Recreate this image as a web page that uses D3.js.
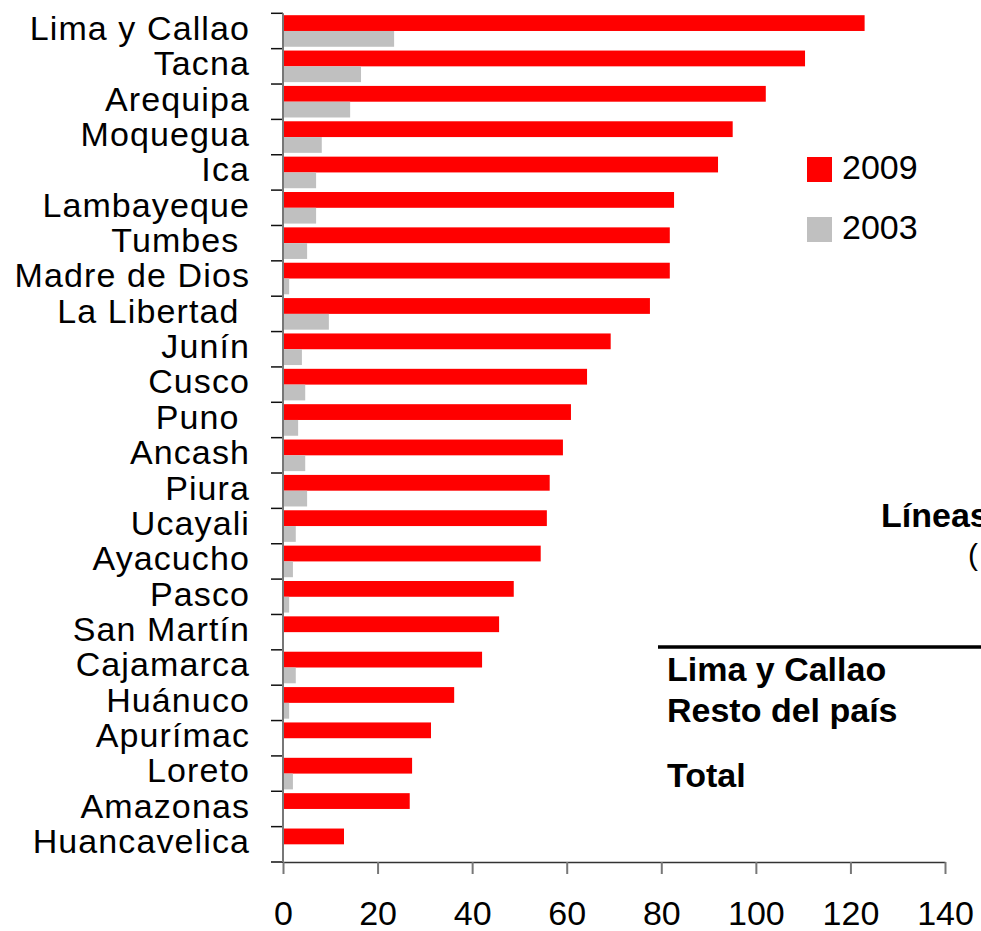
<!DOCTYPE html>
<html>
<head>
<meta charset="utf-8">
<script src="https://cdn.jsdelivr.net/npm/d3@7"></script>
<style>
  html, body { margin: 0; padding: 0; background: #fff; }
  svg { display: block; font-family: "Liberation Sans", Arial, sans-serif; }
</style>
</head>
<body>
<svg id="chart" width="981" height="931"></svg>
<script>
const regions = ["Lima y Callao","Tacna","Arequipa","Moquegua","Ica","Lambayeque","Tumbes ","Madre de Dios","La Libertad ","Junín","Cusco","Puno ","Ancash","Piura","Ucayali","Ayacucho","Pasco","San Martín","Cajamarca","Huánuco","Apurímac","Loreto","Amazonas","Huancavelica"];
const values2009 = [123.0,110.4,102.1,95.1,92.0,82.7,81.8,81.8,77.6,69.3,64.3,60.9,59.2,56.4,55.8,54.5,48.8,45.7,42.1,36.2,31.3,27.3,26.8,12.9];
const values2003 = [23.5,16.5,14.2,8.2,7.0,7.0,5.1,1.3,9.7,4.0,4.7,3.2,4.7,5.1,2.7,2.1,1.3,0,2.7,1.3,0,2.1,0,0];
const seriesNames = ["2009","2003"];
const seriesColors = ["#FF0000","#C0C0C0"];
const xTicks = [0,20,40,60,80,100,120,140];
const tableRows = ["Lima y Callao","Resto del país","Total"];
const tableTitle = ["Líneas","("];

const svg = d3.select("#chart");
const plotLeft = 283, plotRight = 945, plotTop = 13.3, plotBottom = 862;

const x = d3.scaleLinear().domain([0,140]).range([plotLeft,plotRight]);
const y = d3.scaleBand().domain(regions).range([plotTop,plotBottom]).padding(0);
const sub = d3.scaleBand().domain(seriesNames).range([0,y.bandwidth()]).paddingInner(0).paddingOuter(0.12);

const data = regions.map((r,i)=>({region:r, vals:[values2009[i], values2003[i]]}));

// bars
const g = svg.append("g");
data.forEach(d => {
  seriesNames.forEach((s,k) => {
    if (d.vals[k] > 0) {
      g.append("rect")
        .attr("x", x(0))
        .attr("y", y(d.region) + sub(s))
        .attr("width", x(d.vals[k]) - x(0))
        .attr("height", sub.bandwidth())
        .attr("fill", seriesColors[k]);
    }
  });
});

// x axis
const xAxis = d3.axisBottom(x).tickValues(xTicks).tickSize(12).tickSizeOuter(0).tickPadding(27);
const gx = svg.append("g").attr("transform", `translate(0,${plotBottom})`).call(xAxis);
gx.select(".domain").attr("stroke","#333").attr("stroke-width",1.5);
gx.selectAll(".tick line").attr("stroke","#777").attr("stroke-width",2);
gx.selectAll(".tick text").attr("font-size",34).attr("fill","#000").attr("font-family","'Liberation Sans', Arial, sans-serif");

// y axis: labels at band centers
const yAxis = d3.axisLeft(y).tickSize(0).tickPadding(33);
const gy = svg.append("g").attr("transform", `translate(${plotLeft},0)`).call(yAxis);
gy.select(".domain").remove();
gy.selectAll(".tick text")
  .attr("font-size",34).attr("fill","#000")
  .attr("font-family","'Liberation Sans', Arial, sans-serif")
  .attr("letter-spacing","1.1px")
  .attr("dy","0.26em")
  .style("white-space","pre");

// y boundary ticks
const bounds = regions.map(r => y(r)).concat([plotBottom]);
svg.append("g").selectAll("line").data(bounds).join("line")
  .attr("x1", plotLeft - 12).attr("x2", plotLeft)
  .attr("y1", d => d).attr("y2", d => d)
  .attr("stroke","#111").attr("stroke-width",1.5);
svg.append("line")
  .attr("x1", plotLeft).attr("x2", plotLeft)
  .attr("y1", plotTop).attr("y2", plotBottom)
  .attr("stroke","#777").attr("stroke-width",2);

// legend
const legend = svg.append("g");
seriesNames.forEach((s,k) => {
  legend.append("rect").attr("x",807).attr("y",157 + k*60).attr("width",25).attr("height",25).attr("fill",seriesColors[k]);
  legend.append("text").attr("x",842).attr("y",179 + k*60).attr("font-size",34).attr("fill","#000").text(s);
});

// table fragment on the right
svg.append("text").attr("x",881).attr("y",527).attr("font-size",34).attr("font-weight","bold").attr("fill","#000").text(tableTitle[0]);
svg.append("text").attr("x",968).attr("y",565).attr("font-size",30).attr("fill","#000").text(tableTitle[1]);
svg.append("line").attr("x1",658).attr("x2",981).attr("y1",647).attr("y2",647).attr("stroke","#000").attr("stroke-width",3.5);
const rowY = [681,722,787];
tableRows.forEach((t,i) => {
  svg.append("text").attr("x",667).attr("y",rowY[i]).attr("font-size",34).attr("font-weight","bold").attr("fill","#000").text(t);
});
</script>
</body>
</html>
